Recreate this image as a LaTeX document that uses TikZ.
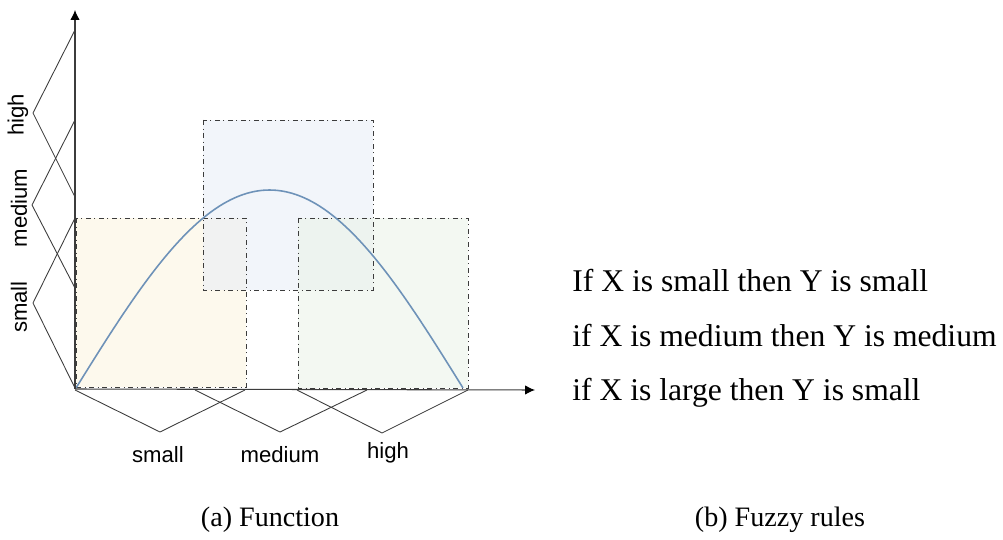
\documentclass[tikz,border=0pt]{standalone}
\usepackage{fontspec}
\setmainfont{Liberation Serif}
\setsansfont{Liberation Sans}
\usetikzlibrary{arrows.meta,positioning,calc}
\definecolor{fuzzyYellow}{RGB}{252, 245, 225}
\definecolor{fuzzyBlue}{RGB}{233, 238, 247}
\definecolor{fuzzyGreen}{RGB}{235, 243, 233}
\definecolor{fuzzyCurve}{RGB}{110, 146, 184}
\definecolor{fuzzyLine}{RGB}{60, 60, 60}

\begin{document}
\begin{tikzpicture}[
  x=0.02cm, y=-0.02cm,
  region/.style={
    draw=fuzzyLine,
    dash dot,
    line width=0.5pt,
    fill opacity=0.6,
    draw opacity=1
  },
  member/.style={draw=fuzzyLine,line width=0.5pt},
  axis/.style={-{Latex[length=2mm,width=1.9mm,black]},line width=0.6pt,fuzzyLine},
  setlabel/.style={font=\sffamily\fontsize{12.6}{14}\selectfont},
  rule/.style={font=\fontsize{18}{21}\selectfont,anchor=base west,inner sep=0pt},
  caption/.style={font=\fontsize{16}{19}\selectfont,anchor=base,inner sep=0pt}
]
  \useasboundingbox (0,0) rectangle (1003,540);
  \coordinate (origin) at (75,389);
  \coordinate (ytip) at (75,10);
  \coordinate (xtip) at (535,390);

  % fuzzy regions
  \fill[region,fill=fuzzyYellow] (76,218) rectangle (246,387);
  \fill[region,fill=fuzzyBlue] (203,120) rectangle (373,290);
  \fill[region,fill=fuzzyGreen] (298,218) rectangle (468,388);
  \draw[region] (76,218) rectangle (246,387);
  \draw[region] (203,120) rectangle (373,290);
  \draw[region] (298,218) rectangle (468,388);

  % function
  \draw[fuzzyCurve,line width=0.9pt,domain=0:180,samples=60,smooth]
    plot ({76+\x/180*387},{388-198*sin(\x)});

  % axes
  \draw[axis] (origin) -- (ytip);
  \draw[axis] (origin) -- (xtip);

  % membership functions, y axis
  \draw[member] (75,30) -- (33,113) -- (75,197);
  \draw[member] (75,120) -- (32,205) -- (75,288);
  \draw[member] (75,218) -- (33,303) -- (75,388);
  \node[setlabel,rotate=90] (yhigh) at (18,115) {high};
  \node[setlabel,rotate=90] (ymedium) at (19,208) {medium};
  \node[setlabel,rotate=90] (ysmall) at (19,307) {small};

  % membership functions, x axis
  \draw[member] (75,390) -- (160,432) -- (245,390);
  \draw[member] (195,390) -- (280,432) -- (367,390);
  \draw[member] (297,390) -- (382,433) -- (468,390);
  \node[setlabel] (xsmall) at (158,455) {small};
  \node[setlabel] (xmedium) at (280,455) {medium};
  \node[setlabel] (xhigh) at (388,453) {high};

  % rules
  \node[rule] (rule1) at (572,292) {If X is small then Y is small};
  \node[rule] (rule2) at (572,346) {if X is medium then Y is medium};
  \node[rule] (rule3) at (572,400) {if X is large then Y is small};

  % captions
  \node[caption] (capa) at (270,526) {(a) Function};
  \node[caption] (capb) at (780,526) {(b) Fuzzy rules};
\end{tikzpicture}
\end{document}
